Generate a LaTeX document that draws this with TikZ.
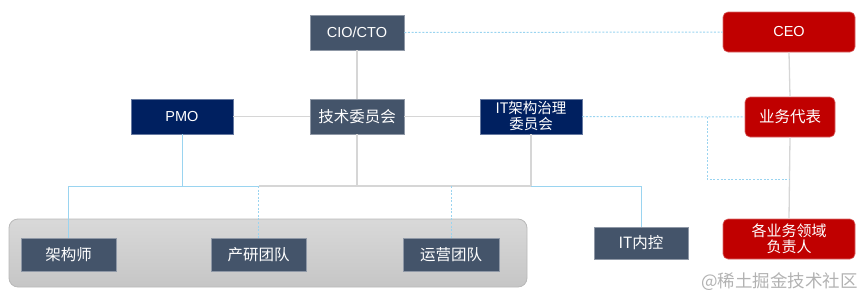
\documentclass[tikz,border=0pt]{standalone}
\usepackage{fontspec}
\setmainfont{Noto Sans CJK SC}
\newfontfamily\latinsf{Liberation Sans}
\usetikzlibrary{positioning}
\definecolor{slate}{HTML}{44546A}
\definecolor{navy}{HTML}{002060}
\definecolor{deepred}{HTML}{C00000}
\definecolor{lblue}{HTML}{9AD4F0}
\definecolor{lgray}{HTML}{D6D6D6}
\tikzset{
  box/.style={rectangle, inner sep=0pt, text=white, align=center,
    font=\fontsize{15.5}{18}\selectfont, draw=#1!60!white, line width=0.6pt, fill=#1},
  redbox/.style={box=deepred, rounded corners=5pt},
  grayline/.style={draw=lgray, line width=1.3pt},
  blueline/.style={draw=lblue, line width=0.8pt},
  bluedash/.style={draw=lblue, line width=1pt, dash pattern=on 2pt off 1.6pt},
  latin/.style={font=\latinsf\fontsize{14.5}{17}\selectfont},
}
\begin{document}
\begin{tikzpicture}[x=1pt,y=-1pt]
\useasboundingbox (0,0) rectangle (865,298);
% container
\node[rectangle, rounded corners=9pt, draw=gray!55, line width=0.8pt,
  top color=gray!30, bottom color=gray!45, minimum width=518pt, minimum height=68pt, inner sep=0pt]
  (cont) at (268,253) {};
% nodes
\node[box=slate, latin, minimum width=94pt, minimum height=35pt] (cio) at (357,32.5) {CIO/CTO};
\node[redbox, latin, minimum width=132pt, minimum height=40pt] (ceo) at (789,32) {CEO};
\node[box=navy, latin, minimum width=102pt, minimum height=35pt] (pmo) at (182,116.5) {PMO};
\node[box=slate, minimum width=94pt, minimum height=35pt] (tech) at (357,116.5) {技术委员会};
\node[box=navy, minimum width=102pt, minimum height=35pt, font=\fontsize{14.5}{17}\selectfont] (ita) at (531,116.5) {IT架构治理\\[-1pt]委员会};
\node[redbox, minimum width=90pt, minimum height=40pt] (rep) at (790,117) {业务代表};
\node[box=slate, minimum width=95pt, minimum height=33pt] (arch) at (68.5,254.5) {架构师};
\node[box=slate, minimum width=95pt, minimum height=33pt] (dev) at (258.5,254.5) {产研团队};
\node[box=slate, minimum width=96pt, minimum height=33pt] (ops) at (451,254.5) {运营团队};
\node[box=slate, minimum width=94pt, minimum height=32pt] (itc) at (641,243) {IT内控};
\node[redbox, minimum width=132pt, minimum height=40pt, font=\fontsize{15}{18}\selectfont] (lead) at (789,239) {各业务领域\\[-2pt]负责人};
\node[text=gray!60, font=\fontsize{17.5}{19}\selectfont, anchor=east, inner sep=0pt] (wm) at (858,282) {@稀土掘金技术社区};
% junctions
\coordinate (jl) at (68.5,186);
\coordinate (jp) at (182,186);
\coordinate (jd) at (258.5,186);
\coordinate (jt) at (357,186);
\coordinate (jo) at (451,186);
\coordinate (ja) at (531,186);
\coordinate (ji) at (641,186);
\coordinate (la) at (707,117);
\coordinate (lb) at (707,179);
\coordinate (lc) at (790,179);
% gray lines
\draw[grayline] (cio.south) -- (tech.north);
\draw[grayline] (pmo.east) -- (tech.west);
\draw[grayline] (tech.east) -- (ita.west);
\draw[grayline] (tech.south) -- (jt);
\draw[grayline] (ita.south) -- (ja);
\draw[grayline] (jd) -- (ja);
\draw[grayline] (ceo.south) -- (rep.north);
\draw[grayline] (rep.south) -- (lead.north);
% blue solid
\draw[blueline] (pmo.south) -- (jp);
\draw[blueline] (arch.north) -- (jl) -- (jd);
\draw[blueline] (ja) -- (ji) -- (itc.north);
% blue dashed
\draw[bluedash] (jd) -- (dev.north);
\draw[bluedash] (jo) -- (ops.north);
\draw[bluedash] (cio.east) -- (ceo.west);
\draw[bluedash] (ita.east) -- (rep.west);
\draw[bluedash] (la) -- (lb) -- (lc);
\end{tikzpicture}
\end{document}
